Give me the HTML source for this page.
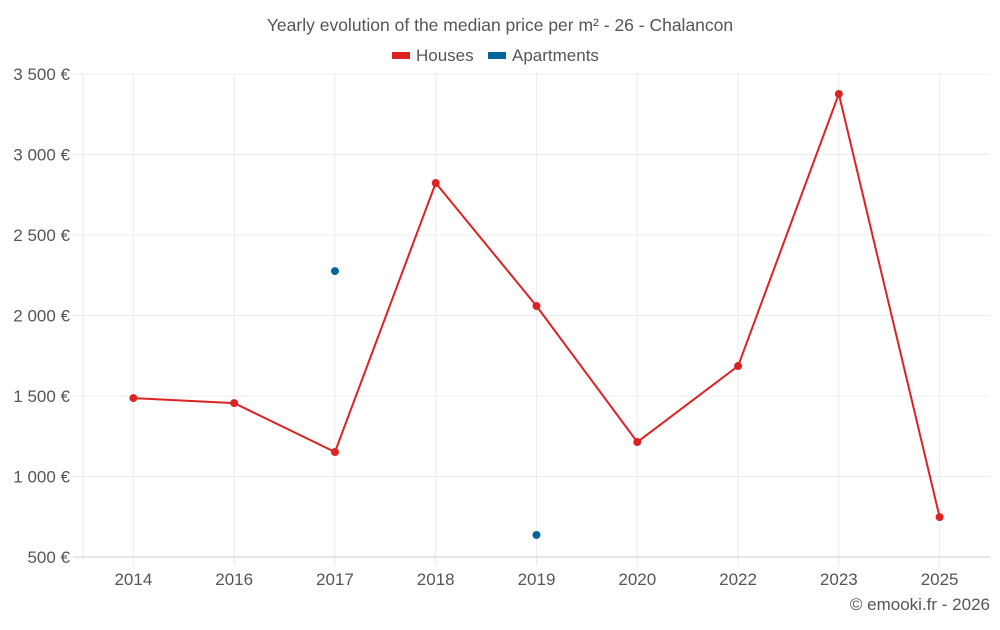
<!DOCTYPE html>
<html><head><meta charset="utf-8"><style>
body{margin:0;background:#fff;font-family:"Liberation Sans",sans-serif;}
svg text{font-family:"Liberation Sans",sans-serif;}
</style></head><body>
<svg id="chart" width="1000" height="625">
<text x="500" y="31" text-anchor="middle" font-size="17.5" fill="#555">Yearly evolution of the median price per m² - 26 - Chalancon</text>
<g>
<g><rect x="392" y="52" width="18" height="7" fill="#dd2222"/><text x="416" y="61" font-size="17" fill="#555">Houses</text></g>
<g><rect x="488" y="52" width="18" height="7" fill="#006699"/><text x="512" y="61" font-size="17" fill="#555">Apartments</text></g>
</g>
<g id="grid"></g><g id="marks"></g>
<text x="990" y="610" text-anchor="end" font-size="17" fill="#555">© emooki.fr - 2026</text>
</svg>
<script>
const categories=["2014","2016","2017","2018","2019","2020","2022","2023","2025"];
const houses=[1487,1456,1152,2823,2059,1214,1686,3376,748];
const apartments=[null,null,2276,null,637,null,null,null,null];
const yTicks=[500,1000,1500,2000,2500,3000,3500];
const yTickLabels=["500 €","1 000 €","1 500 €","2 000 €","2 500 €","3 000 €","3 500 €"];
const NS="http://www.w3.org/2000/svg";
const L=83,R=990,T=74,B=557,ymin=500,ymax=3500;
const bw=(R-L)/categories.length;
const x=i=>L+bw*(i+0.5);
const y=v=>B-(v-ymin)/(ymax-ymin)*(B-T);
const g=document.getElementById('grid'),m=document.getElementById('marks');
function mk(tag,a,p){const e=document.createElementNS(NS,tag);for(const k in a)e.setAttribute(k,a[k]);p.appendChild(e);return e;}
const ll=mk('line',{x1:L,x2:L,y1:T,y2:B,stroke:'#e6e6e6'},g);


categories.forEach((c,i)=>{
 const l=mk('line',{x1:x(i),x2:x(i),y1:T,y2:566,stroke:'#ececec'},g);
 
 
 const t=mk('text',{x:x(i),y:585,'text-anchor':'middle','font-size':17,fill:'#555'},g);
 t.textContent=c;
 
 
});
yTicks.forEach((v,i)=>{
 const l=mk('line',{x1:L-10,x2:R,y1:y(v),y2:y(v),stroke:i==0?'#ccc':'#ececec'},g);
 
 
 const t=mk('text',{x:70,y:y(v)+6,'text-anchor':'end','font-size':17,fill:'#555'},g);
 t.textContent=yTickLabels[i];
 
 
});
const pts=houses.map((v,i)=>v==null?null:x(i)+','+y(v)).filter(p=>p);
const pl=mk('polyline',{points:pts.join(' '),fill:'none',stroke:'#dd2222','stroke-width':2},m);


houses.forEach((v,i)=>{if(v==null)return;
 const c=mk('circle',{cx:x(i),cy:y(v),r:4,fill:'#dd2222'},m);
 
 
});
apartments.forEach((v,i)=>{if(v==null)return;
 const c=mk('circle',{cx:x(i),cy:y(v),r:4,fill:'#006699'},m);
 
 
});
</script>
</body></html>
